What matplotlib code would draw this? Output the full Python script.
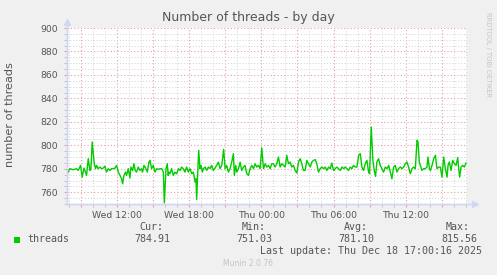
import matplotlib
matplotlib.use("Agg")
import matplotlib.pyplot as plt
from matplotlib.ticker import MultipleLocator, FuncFormatter
from matplotlib.lines import Line2D

# ---- data (hours since Wed 00:00, number of threads) ----
hours = [7.84, 8.06, 8.34, 8.61, 8.75, 8.95, 9.09, 9.23, 9.36, 9.45, 9.59, 9.73, 9.81, 9.92,
         10.00, 10.09, 10.20, 10.28, 10.42, 10.56, 10.70, 10.84, 10.98, 11.11, 11.25, 11.39,
         11.53, 11.67, 11.81, 11.95, 12.09, 12.23, 12.36, 12.45, 12.56, 12.70, 12.78, 12.92,
         13.06, 13.14, 13.28, 13.39, 13.50, 13.61, 13.75, 13.89, 14.03, 14.11, 14.23, 14.39,
         14.50, 14.64, 14.73, 14.86, 15.00, 15.14, 15.28, 15.42, 15.56, 15.70, 15.84, 15.92,
         16.06, 16.17, 16.24, 16.31, 16.39, 16.53, 16.67, 16.81, 16.95, 17.09, 17.23, 17.36,
         17.50, 17.64, 17.78, 17.92, 18.06, 18.20, 18.34, 18.48, 18.56, 18.61, 18.70, 18.78,
         18.89, 18.98, 19.09, 19.17, 19.31, 19.45, 19.59, 19.73, 19.86, 20.00, 20.14, 20.28,
         20.42, 20.56, 20.70, 20.86, 20.98, 21.11, 21.25, 21.39, 21.53, 21.67, 21.75, 21.86,
         21.95, 22.09, 22.23, 22.36, 22.50, 22.64, 22.78, 22.92, 23.06, 23.20, 23.34, 23.48,
         23.61, 23.75, 23.89, 24.03, 24.17, 24.31, 24.45, 24.59, 24.73, 24.86, 25.00, 25.14,
         25.28, 25.42, 25.56, 25.70, 25.84, 25.98, 26.11, 26.25, 26.39, 26.53, 26.67, 26.81,
         26.95, 27.09, 27.23, 27.36, 27.50, 27.64, 27.78, 27.92, 28.06, 28.20, 28.34, 28.48,
         28.61, 28.75, 28.89, 29.03, 29.17, 29.31, 29.45, 29.59, 29.73, 29.86, 30.00, 30.14,
         30.28, 30.42, 30.56, 30.70, 30.84, 30.98, 31.11, 31.25, 31.39, 31.53, 31.67, 31.81,
         31.95, 32.09, 32.23, 32.36, 32.50, 32.64, 32.78, 32.92, 33.00, 33.14, 33.28, 33.39,
         33.50, 33.61, 33.75, 33.89, 34.03, 34.17, 34.31, 34.45, 34.59, 34.73, 34.86, 35.00,
         35.14, 35.28, 35.42, 35.56, 35.70, 35.84, 35.98, 36.11, 36.25, 36.39, 36.53, 36.67,
         36.81, 36.95, 37.03, 37.14, 37.23, 37.36, 37.50, 37.64, 37.78, 37.86, 37.98, 38.06,
         38.20, 38.34, 38.48, 38.61, 38.75, 38.89, 39.03, 39.17, 39.31, 39.45, 39.53, 39.64,
         39.78, 39.92, 40.06, 40.20, 40.34, 40.42, 40.50, 40.61, 40.75, 40.89, 41.03]
threads = [775.8, 780.1, 779.2, 780.1, 778.6, 782.9, 772.9, 780.6, 777.2, 774.4, 788.6, 778.6, 780.1, 802.8,
           794.3, 784.3, 780.1, 782.9, 780.1, 781.5, 780.1, 780.6, 782.3, 777.2, 780.1, 778.6,
           780.1, 780.1, 780.6, 782.9, 777.2, 774.4, 771.5, 767.2, 774.4, 777.2, 774.4, 780.1,
           772.1, 781.5, 778.6, 784.3, 778.6, 777.2, 781.5, 778.6, 780.1, 777.2, 782.9, 780.1,
           777.2, 785.7, 787.2, 780.1, 782.9, 777.2, 780.1, 779.5, 780.1, 780.1, 777.2, 751.03,
           780.1, 784.3, 774.4, 777.2, 775.8, 780.1, 774.4, 777.2, 775.8, 780.1, 778.6, 781.5,
           780.1, 777.2, 781.5, 777.2, 780.1, 775.8, 777.2, 768.7, 771.5, 753.8, 777.2, 795.7,
           780.1, 782.9, 777.2, 780.1, 781.5, 778.6, 781.5, 780.1, 782.9, 778.6, 780.6, 782.9,
           785.7, 780.1, 782.9, 796.6, 780.1, 782.9, 777.2, 780.1, 785.7, 792.9, 774.4, 782.9,
           777.2, 780.1, 785.7, 778.6, 781.5, 782.9, 775.8, 774.4, 780.1, 782.9, 780.1, 784.3,
           781.5, 782.9, 780.1, 797.7, 780.1, 784.3, 781.5, 782.9, 780.1, 784.3, 784.3, 781.5,
           784.3, 790.0, 781.5, 784.3, 782.9, 781.5, 791.5, 784.3, 785.8, 781.5, 782.9, 778.6,
           776.4, 785.8, 788.6, 784.3, 778.6, 778.6, 787.2, 784.3, 781.5, 785.8, 787.2, 787.8,
           784.3, 777.2, 780.1, 781.5, 780.1, 781.5, 778.6, 781.5, 780.1, 784.9, 778.6, 780.1,
           781.5, 780.1, 778.6, 781.5, 780.1, 781.5, 780.1, 778.6, 781.5, 780.1, 782.9, 781.5,
           781.5, 791.5, 792.9, 781.5, 778.6, 784.3, 787.2, 777.2, 775.8, 815.56, 787.2, 778.6,
           773.5, 785.8, 788.6, 782.9, 780.1, 777.2, 781.5, 780.1, 782.9, 777.2, 771.5, 781.5,
           782.9, 777.2, 780.1, 781.5, 780.1, 781.5, 784.3, 785.8, 781.5, 775.8, 780.1, 781.5,
           780.1, 804.3, 802.9, 785.8, 782.9, 778.6, 780.1, 780.1, 781.5, 790.0, 780.1, 778.6,
           782.9, 788.6, 791.5, 780.1, 781.5, 781.5, 772.9, 790.0, 780.1, 772.9, 782.9, 785.8,
           778.6, 787.2, 784.3, 782.9, 789.5, 780.1, 772.9, 781.5, 782.9, 781.5, 784.91]

title = "Number of threads - by day"
ylabel = "number of threads"
series_name = "threads"
stat_names = ["Cur:", "Min:", "Avg:", "Max:"]
stat_values = ["784.91", "751.03", "781.10", "815.56"]
last_update = "Last update: Thu Dec 18 17:00:16 2025"
version = "Munin 2.0.76"
side_text = "RRDTOOL / TOBI OETIKER"
x_range = (7.78, 41.11)
y_range = (750, 900)

# ---- styling ----
W, H = 497, 275
BG = "#F0F0F0"
FONT = "#555555"
AXIS = "#CFD6F8"
GREEN = "#00CC00"

fig = plt.figure(figsize=(W / 100, H / 100), dpi=100, facecolor=BG)

def fx(px):
    return px / W

def fy(py):
    return 1 - py / H

L, R, T, B = 66.5, 467.0, 28.0, 204.0
ax = fig.add_axes([fx(L), fy(B), fx(R) - fx(L), fy(T) - fy(B)], facecolor="white")
ax.set_xlim(*x_range)
ax.set_ylim(*y_range)

# grid
ax.xaxis.set_major_locator(MultipleLocator(3))
ax.xaxis.set_minor_locator(MultipleLocator(1))
ax.yaxis.set_major_locator(MultipleLocator(20))
ax.yaxis.set_minor_locator(MultipleLocator(5))

def xfmt(v, pos):
    h = int(round(v))
    if h % 6 != 0:
        return ""
    day = "Wed" if h < 24 else "Thu"
    return f"{day} {h % 24:02d}:00"

ax.xaxis.set_major_formatter(FuncFormatter(xfmt))
ax.grid(which="minor", color="#D0D0D0", linestyle=(0, (1, 2)), linewidth=0.7)
ax.grid(which="major", color="#E8A0A0", linestyle=(0, (1, 2)), linewidth=0.8)
ax.set_axisbelow(True)

ax.tick_params(axis="both", which="both", direction="out", colors=FONT,
               labelsize=6.7, labelcolor=FONT)
ax.tick_params(axis="both", which="major", length=2, color="#E8A0A0", width=0.8)
ax.tick_params(axis="both", which="minor", length=2, color="#BBBBBB", width=0.6)
ax.tick_params(axis="y", pad=4)
ax.tick_params(axis="x", pad=3)

for s in ["top", "right"]:
    ax.spines[s].set_visible(False)
for s in ["left", "bottom"]:
    ax.spines[s].set_color(AXIS)
    ax.spines[s].set_linewidth(1.0)

# data line
ax.plot(hours, threads, color=GREEN, linewidth=1.0, zorder=3)

# axis extensions + arrows
fig.add_artist(Line2D([fx(L), fx(475)], [fy(B), fy(B)], color=AXIS, linewidth=1.0))
fig.add_artist(Line2D([fx(L), fx(L)], [fy(B), fy(22)], color=AXIS, linewidth=1.0))
fig.add_artist(Line2D([fx(475)], [fy(B)], marker=">", markersize=4, color=AXIS, linestyle="none"))
fig.add_artist(Line2D([fx(L)], [fy(22)], marker="^", markersize=4, color=AXIS, linestyle="none"))

# texts
fig.text(fx(248), fy(18), title, ha="center", va="center", fontsize=9, color=FONT)
fig.text(fx(10), fy(115), ylabel, ha="center", va="center", rotation=90,
         fontsize=8.1, color=FONT)
fig.text(fx(488), fy(55), side_text, ha="center", va="center", rotation=270,
         fontsize=4.8, color="#C4C4C4")

mono = "DejaVu Sans Mono"
fig.patches.append(plt.Rectangle((fx(14), fy(242.5)), fx(6), 6 / H, transform=fig.transFigure,
                                 facecolor=GREEN, edgecolor="none"))
fig.text(fx(27), fy(239.5), series_name, ha="left", va="center", fontsize=7.2,
         family=mono, color=FONT)
name_right = [163, 266, 368, 470]
val_right = [170, 272, 374, 477]
for n, v, nr, vr in zip(stat_names, stat_values, name_right, val_right):
    fig.text(fx(nr), fy(227), n, ha="right", va="center", fontsize=7.2, family=mono, color=FONT)
    fig.text(fx(vr), fy(239.5), v, ha="right", va="center", fontsize=7.2, family=mono, color=FONT)
fig.text(fx(482), fy(251.5), last_update, ha="right", va="center", fontsize=7.2,
         family=mono, color=FONT)
fig.text(fx(248), fy(264), version, ha="center", va="center", fontsize=5.5, color="#C4C4C4")

fig.savefig("out.png", dpi=100, facecolor=BG)
